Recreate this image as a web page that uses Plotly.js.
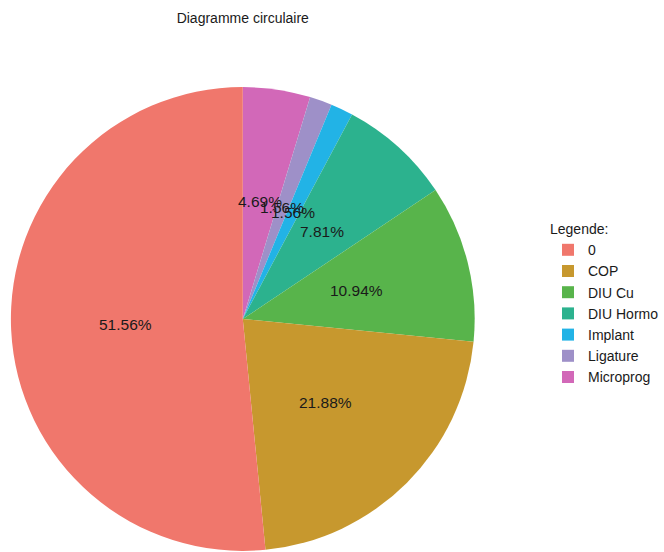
<!DOCTYPE html>
<html>
<head>
<meta charset="utf-8">
<script src="https://cdn.plot.ly/plotly-3.0.1.min.js"></script>
<style>html,body{margin:0;padding:0;background:#fff;}#chart{width:664px;height:552px;}</style>
</head>
<body>
<div id="chart"></div>
<script>
const categories = ['0', 'COP', 'DIU Cu', 'DIU Hormo', 'Implant', 'Ligature', 'Microprog'];
const percents = [51.56, 21.88, 10.94, 7.81, 1.56, 1.56, 4.69];
const colors = ['#F0776C', '#C7982E', '#58B44B', '#2CB28E', '#22B3E6', '#9E90C8', '#D268B8'];
const titleText = 'Diagramme circulaire';
const legendTitle = 'Legende:';

const W = 664, H = 552;
// pie box in pixels
const px0 = 11, px1 = 479, py0 = 86, py1 = 552;
const domX = [px0 / W, px1 / W];
const domY = [(H - py1) / H, (H - py0) / H];
const cx = (px0 + px1) / 2, cy = (py0 + py1) / 2, R = 232;
const labelRadius = 0.51 * R;

const total = percents.reduce((a, b) => a + b, 0);
const annotations = [];
let cum = 0;
percents.forEach((v, i) => {
  const mid = cum + v / 2;
  cum += v;
  const theta = -mid / total * 2 * Math.PI; // counterclockwise from top
  const xp = cx + labelRadius * Math.sin(theta);
  const yp = cy - labelRadius * Math.cos(theta);
  annotations.push({
    x: xp / W, y: (H - yp) / H, xref: 'paper', yref: 'paper',
    text: v.toFixed(2) + '%', showarrow: false,
    xanchor: 'center', yanchor: 'middle',
    font: {family: 'Liberation Sans, Arial, sans-serif', size: 15.5, color: '#1a1a1a'}
  });
});

// slices laid out clockwise from 12 o'clock in reverse order (= counterclockwise in original order)
const trace = {
  type: 'pie',
  labels: categories.slice().reverse(),
  values: percents.slice().reverse(),
  sort: false,
  direction: 'clockwise',
  rotation: 0,
  textinfo: 'none',
  hoverinfo: 'label+percent',
  marker: {colors: colors.slice().reverse(), line: {width: 0}},
  domain: {x: domX, y: domY}
};

const layout = {
  width: W, height: H,
  margin: {l: 0, r: 0, t: 0, b: 0},
  paper_bgcolor: '#ffffff',
  font: {family: 'Liberation Sans, Arial, sans-serif', color: '#1a1a1a'},
  title: {
    text: titleText, x: 245 / W, xanchor: 'center', xref: 'paper',
    y: 1 - 18 / H, yanchor: 'middle', yref: 'container',
    font: {size: 14, color: '#1a1a1a'}
  },
  showlegend: true,
  legend: {
    x: 553 / W, xanchor: 'left', y: (H - 216) / H, yanchor: 'top',
    traceorder: 'reversed',
    title: {text: legendTitle, font: {size: 14}},
    font: {size: 14, color: '#1a1a1a'},
    bgcolor: 'rgba(0,0,0,0)'
  },
  annotations: annotations
};

Plotly.newPlot('chart', [trace], layout, {displayModeBar: false, staticPlot: true});
</script>
</body>
</html>
